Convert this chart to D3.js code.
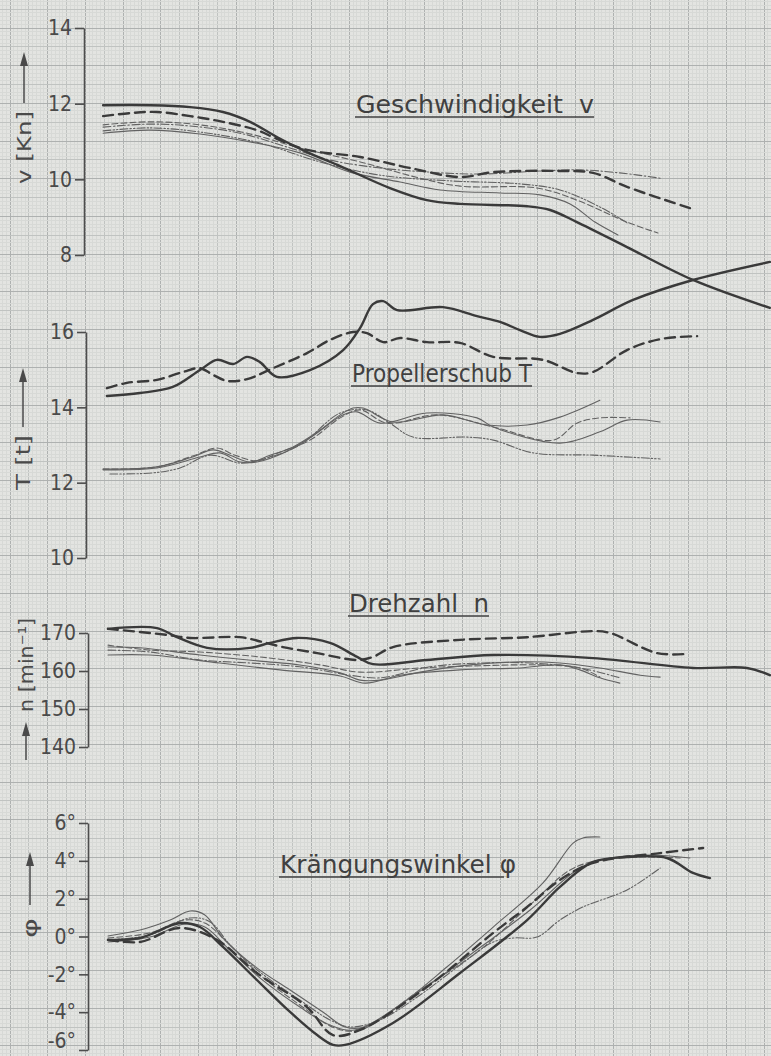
<!DOCTYPE html>
<html>
<head>
<meta charset="utf-8">
<title>Manöverversuch</title>
<style>
 body { margin: 0; background: #e3e4e1; }
 svg { display: block; }
 .grid line { shape-rendering: crispEdges; }
 .axis path, .axis line { stroke: #4d4d4d; stroke-width: 1.6; }
 .axis text { font-family: "Liberation Sans Narrow", "DejaVu Sans Condensed", sans-serif; font-size: 21px; fill: #4a4a4a; }
 .title { font-family: "DejaVu Sans", sans-serif; font-size: 25px; fill: #404040; }
 .ylabel { font-family: "DejaVu Sans", sans-serif; font-size: 20px; fill: #4a4a4a; }
 .curve { fill: none; stroke-linecap: round; stroke-linejoin: round; }
</style>
</head>
<body>
<svg width="771" height="1056"></svg>
<script src="https://cdn.jsdelivr.net/npm/d3@7"></script>
<script>

// tick values of the four scales
var vTicks = [8, 10, 12, 14];
var tTicks = [10, 12, 14, 16];
var nTicks = [140, 150, 160, 170];
var phiTicks = [-6, -4, -2, 0, 2, 4, 6];

// time axis (no labels in the original), graph paper cm from the y axes
var timeDomain = [0, 18.2];

// Geschwindigkeit v [Kn]
var vThickSolid = [[0.48,11.96],[1.72,11.96],[2.79,11.91],[3.66,11.78],[4.38,11.52],[5.09,11.12],[5.89,10.72],[6.77,10.35],[8.09,9.77],[9.07,9.45],[9.95,9.35],[11.73,9.29],[12.34,9.19],[13.05,8.87],[14.38,8.21],[16.13,7.34],[18.17,6.60]];
var vThickDash = [[0.48,11.67],[1.19,11.75],[1.91,11.78],[2.79,11.67],[3.66,11.52],[4.56,11.30],[5.09,11.07],[5.89,10.78],[7.30,10.59],[8.62,10.30],[9.95,10.06],[10.83,10.19],[12.60,10.22],[13.48,10.17],[14.38,9.80],[16.05,9.24]];
var vThin1 = [[0.48,11.38],[1.72,11.46],[2.79,11.41],[4.11,11.22],[5.44,10.83],[6.50,10.51],[7.83,10.30],[9.15,10.19],[10.48,10.14],[12.07,10.22],[13.13,10.25],[14.19,10.17],[15.26,10.03]];
var vThin2 = [[0.48,11.44],[1.72,11.52],[3.05,11.44],[4.38,11.20],[5.70,10.83],[7.30,10.46],[8.89,10.03],[9.95,9.82],[11.99,9.77],[13.05,9.45],[14.38,8.87],[15.20,8.58]];
var vThin3 = [[0.48,11.22],[1.72,11.30],[3.05,11.20],[4.38,10.99],[5.70,10.70],[7.03,10.19],[8.36,9.93],[9.42,9.72],[11.01,9.64],[12.07,9.59],[12.87,9.35],[13.53,8.87],[14.14,8.53]];
var vThin4 = [[0.48,11.28],[1.72,11.36],[3.05,11.25],[4.64,10.96],[6.24,10.46],[7.83,10.11],[9.68,9.96],[11.54,9.88],[12.60,9.72],[13.66,9.27],[14.38,8.85]];

// Propellerschub T [t]
var tThickSolid = [[0.58,14.30],[1.46,14.38],[2.33,14.54],[3.05,14.99],[3.50,15.26],[3.93,15.15],[4.30,15.34],[4.64,15.20],[5.09,14.81],[5.97,14.99],[6.85,15.52],[7.30,16.11],[7.64,16.74],[7.91,16.82],[8.28,16.58],[9.50,16.66],[10.40,16.42],[11.01,16.27],[11.54,16.05],[12.07,15.87],[12.60,15.95],[13.48,16.32],[14.54,16.85],[16.13,17.38],[18.17,17.86]];
var tThickDash = [[0.58,14.51],[1.11,14.65],[1.91,14.73],[2.60,14.94],[3.05,15.04],[3.40,14.86],[3.77,14.70],[4.30,14.75],[4.99,15.04],[5.89,15.44],[6.50,15.79],[7.11,16.00],[7.48,15.97],[7.91,15.73],[8.36,15.84],[9.07,15.73],[9.95,15.71],[10.83,15.34],[12.15,15.26],[13.05,14.91],[13.48,14.94],[14.38,15.52],[15.26,15.81],[16.24,15.89]];
var tThin1 = [[0.48,12.36],[1.91,12.42],[2.79,12.66],[3.40,12.87],[3.85,12.73],[4.38,12.55],[4.91,12.73],[5.52,12.95],[6.24,13.40],[6.77,13.80],[7.11,13.98],[7.38,13.98],[8.17,13.61],[9.50,13.80],[10.67,13.53],[11.73,13.53],[12.60,13.74],[13.66,14.19]];
var tThin2 = [[0.48,12.36],[1.91,12.42],[2.92,12.73],[3.50,12.92],[3.98,12.73],[4.56,12.58],[5.17,12.81],[5.97,13.13],[6.77,13.72],[7.30,13.93],[8.01,13.58],[9.34,13.80],[10.83,13.48],[12.42,13.13],[13.05,13.58],[13.66,13.72],[14.46,13.72]];
var tThin3 = [[0.48,12.34],[1.91,12.39],[3.05,12.68],[3.58,12.79],[4.11,12.55],[4.56,12.55],[5.31,12.81],[5.97,13.19],[6.85,13.80],[7.22,13.88],[7.83,13.58],[9.07,13.85],[10.40,13.72],[10.83,13.48],[12.60,13.05],[13.66,13.35],[14.38,13.66],[15.26,13.61]];
var tThin4 = [[0.66,12.23],[1.80,12.26],[2.52,12.39],[3.32,12.73],[4.11,12.52],[4.64,12.60],[5.70,13.00],[6.77,13.85],[7.48,13.93],[8.09,13.58],[8.70,13.21],[10.14,13.21],[10.83,13.13],[11.89,12.79],[13.48,12.73],[15.26,12.63]];

// Drehzahl n [1/min]
var nThickSolid = [[0.61,171.1],[1.91,171.3],[2.44,168.9],[3.24,166.1],[4.38,166.1],[4.91,167.4],[5.62,168.7],[6.50,167.4],[7.22,163.7],[7.64,161.8],[9.07,162.9],[10.83,164.2],[13.48,163.4],[16.13,160.8],[17.56,160.8],[18.17,158.9]];
var nThickDash = [[0.61,171.1],[2.18,169.5],[2.79,168.7],[4.11,168.9],[4.72,167.6],[5.25,166.3],[6.16,164.7],[7.22,162.9],[7.64,163.7],[8.17,166.3],[9.95,168.2],[11.73,168.9],[13.48,170.5],[13.93,170.0],[15.18,164.7],[15.97,164.5]];
var nThin1 = [[0.61,166.3],[1.46,166.1],[3.05,164.2],[4.64,162.6],[5.70,161.6],[6.77,159.5],[7.30,157.6],[7.83,157.6],[8.89,159.7],[10.21,161.6],[11.54,162.4],[12.60,162.1],[13.66,160.8],[14.73,158.9],[15.26,158.4]];
var nThin2 = [[0.61,165.5],[1.72,165.0],[3.05,162.9],[4.38,162.1],[5.70,161.1],[7.03,158.9],[7.83,158.2],[9.15,161.1],[10.48,162.1],[11.81,162.1],[13.13,160.8],[14.19,158.2]];
var nThin3 = [[0.61,166.8],[1.72,165.5],[3.05,165.0],[4.64,163.7],[6.24,161.6],[7.30,159.7],[8.89,160.8],[10.21,161.3],[12.07,161.6],[13.13,160.8],[13.66,158.4]];
var nThin4 = [[0.61,164.2],[1.72,164.2],[3.58,162.1],[5.17,160.3],[6.77,158.7],[7.43,156.8],[8.36,158.9],[9.95,160.3],[11.54,160.8],[12.60,161.6],[13.13,160.3],[13.66,158.2],[14.19,156.8]];

// Krängungswinkel phi [deg]
var phiThickSolid = [[0.61,-0.18],[1.46,-0.08],[2.52,0.71],[3.05,0.50],[3.66,-0.55],[4.56,-2.30],[5.44,-3.99],[6.16,-5.21],[6.58,-5.73],[6.90,-5.73],[8.17,-4.57],[9.95,-1.93],[11.73,0.87],[12.60,2.62],[13.48,3.94],[14.38,4.20],[15.44,4.15],[16.13,3.36],[16.58,3.09]];
var phiThickDash = [[0.61,-0.18],[1.46,-0.29],[2.52,0.45],[3.50,-0.18],[4.56,-1.93],[5.89,-3.73],[6.58,-5.21],[7.30,-4.94],[9.07,-2.67],[10.83,0.19],[11.73,1.56],[12.60,2.99],[13.48,3.89],[15.26,4.41],[16.40,4.68]];
var phiThin1 = [[0.61,0.03],[1.46,0.34],[2.26,0.87],[2.79,1.35],[3.18,1.14],[3.66,-0.08],[4.56,-1.66],[5.44,-2.83],[6.31,-3.99],[6.90,-4.78],[7.43,-4.78],[8.36,-3.62],[9.60,-1.61],[10.83,0.50],[12.15,2.83],[12.95,4.94],[13.21,5.21],[13.66,5.26]];
var phiThin2 = [[0.61,-0.18],[1.72,0.08],[2.79,0.98],[3.32,0.77],[3.85,-0.45],[4.64,-1.88],[5.70,-3.36],[6.50,-4.41],[7.03,-4.78],[7.83,-4.41],[8.89,-3.09],[9.95,-1.51],[10.83,-0.29],[11.36,-0.08],[11.99,-0.03],[12.60,0.87],[13.21,1.56],[14.38,2.46],[15.26,3.62]];
var phiThin3 = [[0.61,-0.08],[1.72,0.19],[2.65,0.87],[3.18,0.71],[3.79,-0.34],[4.64,-2.03],[5.70,-3.62],[6.63,-4.84],[7.30,-4.94],[8.89,-2.83],[10.48,-0.71],[11.81,1.67],[12.87,3.52],[13.66,4.04],[14.73,4.20],[15.79,4.15]];
var phiThin4 = [[0.61,-0.29],[1.72,-0.03],[2.65,0.66],[3.18,0.50],[3.79,-0.61],[4.64,-2.19],[5.70,-3.73],[6.50,-4.68],[7.16,-4.94],[8.62,-3.25],[10.21,-0.98],[11.81,1.40],[13.13,3.62],[13.93,4.15],[14.99,4.31],[16.05,4.15]];

var svg = d3.select('svg');
var width = +svg.attr('width');
var height = +svg.attr('height');

// pen styles
var pens = {
    thickSolid: { w: 2.4, c: '#3a3a3a', dash: null },
    thickDash:  { w: 2.4, c: '#3a3a3a', dash: '10,6' },
    thinSolid:  { w: 1.1, c: '#626262', dash: null },
    thinDash:   { w: 1.1, c: '#626262', dash: '6,3' },
    thinDot:    { w: 1.1, c: '#626262', dash: '8,2.5,1.5,2.5' },
    thinDot2:   { w: 1.1, c: '#626262', dash: '8,2,1.5,2,1.5,2' }
};

/*
 * graph paper: 1 mm, 5 mm and 1 cm lines
 */
var mm = 3.77;
var grid = svg.append('g').attr('class', 'grid');
function gridColor(i) {
    if (i % 10 === 0) return '#aeb1b0';
    if (i % 5 === 0) return '#c0c3c1';
    return '#d7d9d6';
}
d3.range(-2, 206).forEach(function(i) {
    var gx = Math.round(9.5 + i * mm) + 0.5;
    if (gx < 0 || gx > width) return;
    grid.append('line')
        .attr('x1', gx).attr('x2', gx).attr('y1', 0).attr('y2', height)
        .attr('stroke', gridColor(i)).attr('stroke-width', 1);
});
d3.range(-7, 284).forEach(function(i) {
    var gy = Math.round(27.5 + i * mm) + 0.5;
    if (gy < 0 || gy > height) return;
    grid.append('line')
        .attr('y1', gy).attr('y2', gy).attr('x1', 0).attr('x2', width)
        .attr('stroke', gridColor(i)).attr('stroke-width', 1);
});

var x = d3.scaleLinear().domain(timeDomain).range([85, 771]);

var panels = [
    { name: 'v', ticks: vTicks, domain: [8, 14], range: [255, 28], axisX: 84, fmt: function(d) { return d; },
      series: [[vThin1, 'thinDot'], [vThin2, 'thinDash'], [vThin3, 'thinSolid'], [vThin4, 'thinDot2'], [vThickDash, 'thickDash'], [vThickSolid, 'thickSolid']] },
    { name: 'T', ticks: tTicks, domain: [10, 16], range: [558, 332], axisX: 86, fmt: function(d) { return d; },
      series: [[tThin1, 'thinSolid'], [tThin2, 'thinDash'], [tThin3, 'thinSolid'], [tThin4, 'thinDot2'], [tThickDash, 'thickDash'], [tThickSolid, 'thickSolid']] },
    { name: 'n', ticks: nTicks, domain: [140, 170], range: [747, 633], axisX: 88, fmt: function(d) { return d; },
      series: [[nThin1, 'thinSolid'], [nThin2, 'thinDot'], [nThin3, 'thinDash'], [nThin4, 'thinSolid'], [nThickDash, 'thickDash'], [nThickSolid, 'thickSolid']] },
    { name: 'phi', ticks: phiTicks, domain: [-6, 6], range: [1050, 823], axisX: 88, fmt: function(d) { return d + '°'; },
      series: [[phiThin1, 'thinSolid'], [phiThin2, 'thinDot2'], [phiThin3, 'thinDash'], [phiThin4, 'thinSolid'], [phiThickDash, 'thickDash'], [phiThickSolid, 'thickSolid']] }
];

panels.forEach(function(p) {
    var y = d3.scaleLinear().domain(p.domain).range(p.range);

    var ax = svg.append('g')
       .attr('class', 'axis')
       .attr('transform', 'translate(' + p.axisX + ',0)')
       .call(d3.axisLeft(y).tickValues(p.ticks).tickSize(9).tickSizeOuter(0).tickPadding(3).tickFormat(p.fmt));

    // lowest label sits on the page edge, lift it a little
    if (p.name === 'phi') {
        ax.selectAll('.tick text').filter(function(d) { return d === -6; }).attr('dy', '-0.12em');
    }

    var line = d3.line()
                 .x(function(d) { return x(d[0]); })
                 .y(function(d) { return y(d[1]); })
                 .curve(d3.curveCatmullRom.alpha(0.5));

    svg.append('g')
       .selectAll('path')
       .data(p.series)
       .enter()
       .append('path')
       .attr('class', 'curve')
       .attr('d', function(d) { return line(d[0]); })
       .attr('stroke', function(d) { return pens[d[1]].c; })
       .attr('stroke-width', function(d) { return pens[d[1]].w; })
       .attr('stroke-dasharray', function(d) { return pens[d[1]].dash; });
});

// underlined panel titles
var titles = [
    { text: 'Geschwindigkeit  v', x: 356, y: 113, len: 238 },
    { text: 'Propellerschub T', x: 352, y: 382, len: 180 },
    { text: 'Drehzahl  n', x: 349, y: 612, len: 140 },
    { text: 'Krängungswinkel φ', x: 280, y: 873, len: 236 }
];
titles.forEach(function(t) {
    svg.append('text')
       .attr('class', 'title')
       .attr('x', t.x).attr('y', t.y)
       .attr('textLength', t.len)
       .attr('lengthAdjust', 'spacingAndGlyphs')
       .style('white-space', 'pre')
       .text(t.text);
    svg.append('line')
       .attr('x1', t.x - 1).attr('x2', t.x + t.len - (t.text.slice(-1) === 'φ' ? 12 : 0))
       .attr('y1', t.y + 4).attr('y2', t.y + 4)
       .attr('stroke', '#404040').attr('stroke-width', 1.5);
});

// rotated axis labels with arrows
var ylabels = [
    { text: 'v [Kn]', x: 24, y: 184, t0: 0, len: 73, a0: 81, a1: 132 },
    { text: 'T [t]', x: 23, y: 490, t0: 0, len: 55, a0: 63, a1: 122 },
    { text: 'n [min⁻¹]', x: 26, y: 760, t0: 48, len: 94, a0: 0, a1: 38 },
    { text: 'φ', x: 30, y: 938, t0: 0, len: 20, a0: 33, a1: 86 }
];
ylabels.forEach(function(l) {
    var g = svg.append('g').attr('transform', 'translate(' + l.x + ',' + l.y + ') rotate(-90)');
    g.append('text')
     .attr('class', 'ylabel')
     .attr('x', l.t0).attr('y', 0)
     .attr('dy', '0.35em')
     .attr('textLength', l.len)
     .attr('lengthAdjust', 'spacingAndGlyphs')
     .text(l.text);
    g.append('line')
     .attr('x1', l.a0).attr('x2', l.a1 - 10)
     .attr('y1', 0).attr('y2', 0)
     .attr('stroke', '#4a4a4a').attr('stroke-width', 1.5);
    g.append('path')
     .attr('d', 'M' + l.a1 + ',0L' + (l.a1 - 14) + ',-4L' + (l.a1 - 14) + ',4Z')
     .attr('fill', '#4a4a4a');
});

</script>
</body>
</html>
